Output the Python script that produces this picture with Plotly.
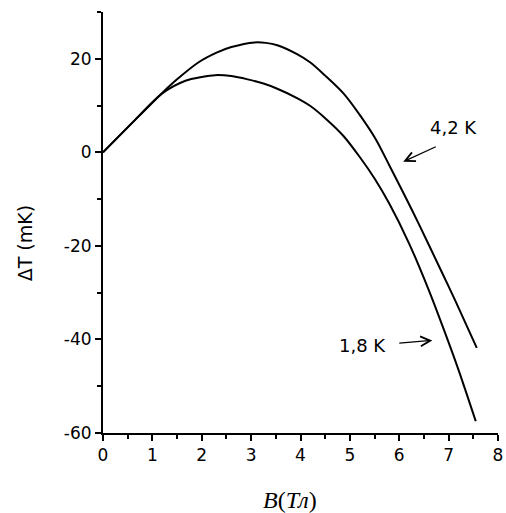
import plotly.graph_objects as go

# Data
b_42 = [0, 0.6, 1.2, 1.5, 1.93, 2.3, 2.6, 3.07, 3.3, 3.53, 3.93, 4.2, 4.5, 4.87, 5.2, 5.53, 5.8, 6.1, 6.4, 6.87, 7.13, 7.57]
dt_42 = [0, 6.4, 12.7, 15.6, 19.2, 21.3, 22.5, 23.5, 23.4, 22.9, 21.0, 19.2, 16.4, 12.6, 8.0, 2.7, -2.8, -9.0, -15.4, -25.8, -31.6, -41.8]

b_18 = [0, 0.6, 1.2, 1.67, 2.0, 2.27, 2.6, 2.93, 3.25, 3.53, 3.93, 4.2, 4.5, 4.87, 5.2, 5.5, 5.8, 6.2, 6.6, 6.9, 7.2, 7.55]
dt_18 = [0, 6.4, 12.6, 15.3, 16.1, 16.5, 16.3, 15.6, 14.7, 13.6, 11.6, 9.9, 7.3, 3.5, -1.0, -5.6, -11.0, -19.5, -29.5, -37.8, -46.5, -57.5]

x_ticks = [0, 1, 2, 3, 4, 5, 6, 7, 8]
y_ticks = [-60, -40, -20, 0, 20]

SANS = "DejaVu Sans, Arial"

fig = go.Figure()
for bx, dy, name in [(b_42, dt_42, "4,2 K"), (b_18, dt_18, "1,8 K")]:
    fig.add_trace(go.Scatter(x=bx, y=dy, mode="lines", name=name,
                             line=dict(color="black", width=2, shape="spline", smoothing=0.8),
                             showlegend=False))

axis_common = dict(showline=True, linewidth=2, linecolor="black", ticks="outside",
                   tickwidth=2, ticklen=6, tickcolor="black", showgrid=False, zeroline=False,
                   tickfont=dict(family=SANS, size=17, color="black"))

fig.update_layout(
    width=506, height=513,
    margin=dict(l=103, r=3, t=12, b=80),
    paper_bgcolor="white", plot_bgcolor="white",
    xaxis=dict(range=[0, 8], tickvals=x_ticks, ticktext=[str(v) for v in x_ticks],
               ticklabeloverflow="allow",
               minor=dict(ticks="outside", ticklen=4, tickwidth=2, tickcolor="black", dtick=0.5, tick0=0),
               **axis_common),
    yaxis=dict(range=[-60, 30], tickvals=y_ticks, ticktext=[str(v) for v in y_ticks],
               minor=dict(ticks="outside", ticklen=4, tickwidth=2, tickcolor="black", dtick=10, tick0=0),
               **axis_common),
    annotations=[
        dict(text="<i>B</i>(<i>Тл</i>)", xref="paper", yref="paper", x=0.474, y=-0.158, showarrow=False,
             font=dict(family="Liberation Serif, Times New Roman", size=24, color="black"),
             xanchor="center", yanchor="middle"),
        dict(text="ΔT (mK)", xref="paper", yref="paper", x=-0.198, y=0.45, showarrow=False,
             textangle=-90, font=dict(family=SANS, size=19, color="black"),
             xanchor="center", yanchor="middle"),
        dict(text="4,2 K", x=7.09, y=5.4, xref="x", yref="y", showarrow=False,
             font=dict(family=SANS, size=18, color="black")),
        dict(text="", x=6.08, y=-2.0, ax=6.77, ay=1.35, xref="x", yref="y", axref="x", ayref="y",
             showarrow=True, arrowhead=5, arrowsize=1.6, arrowwidth=1.2, arrowcolor="black"),
        dict(text="1,8 K", x=5.25, y=-41.4, xref="x", yref="y", showarrow=False,
             font=dict(family=SANS, size=18, color="black")),
        dict(text="", x=6.67, y=-40.2, ax=5.97, ay=-40.8, xref="x", yref="y", axref="x", ayref="y",
             showarrow=True, arrowhead=5, arrowsize=1.6, arrowwidth=1.2, arrowcolor="black"),
    ],
)

fig.write_html("out.html", config={"displayModeBar": False},
               post_script="document.body.style.margin='0';document.body.style.overflow='hidden';")
